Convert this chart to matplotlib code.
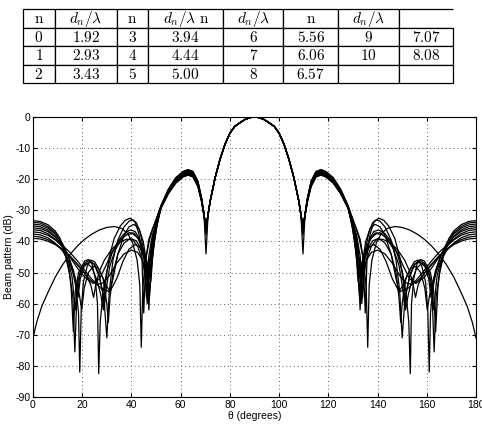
import matplotlib
matplotlib.use('Agg')
import matplotlib.pyplot as plt

plt.rcParams['mathtext.fontset'] = 'cm'
plt.rcParams['font.family'] = ['Liberation Sans', 'DejaVu Sans']
plt.rcParams['axes.unicode_minus'] = False

# table on top
head = ['n', 'd', 'n', 'dn', 'd', 'n', 'd', '']
row0 = ['0', '1.92', '3', '3.94', '6', '5.56', '9', '7.07']
row1 = ['1', '2.93', '4', '4.44', '7', '6.06', '10', '8.08']
row2 = ['2', '3.43', '5', '5.00', '8', '6.57', '', '']
col_w = [32.3, 61.7, 31.6, 75, 60, 55, 61, 54]

# beam pattern curves, theta (deg) from 0 to 71, mirrored about 90
c0 = [(0, -33.3), (3, -33.6), (6, -34.6), (9, -36.6), (11, -39), (13, -43), (14.5, -48), (15.5, -55),
      (16.4, -69), (17.2, -56), (18.5, -50), (20, -47.8), (22, -47), (24, -48.5), (26, -52.5), (27.5, -57),
      (28.6, -62), (29.5, -53), (31, -45), (33, -39), (35.5, -35), (37.5, -33.2), (39.5, -32.5), (41.5, -33.8),
      (43, -37.5), (44.2, -44), (45.0, -63), (45.8, -46), (47, -39.5), (48.5, -36), (50, -33.2),
      (52, -28.5), (55, -23.3), (58, -19.6), (61, -17.6), (63, -17.0), (65, -17.6), (67, -20.7),
      (68.5, -26.1), (69.5, -31.3), (70.3, -36), (71.1, -31.5)]
c1 = [(0, -33.8), (3, -34.1), (6, -35.2), (9, -37.2), (11, -39.8), (13, -44), (15, -51), (16.2, -58),
      (17.0, -75.5), (17.8, -58), (19, -51), (21, -47), (23, -46), (25, -47.5), (27, -51.5), (28.8, -58),
      (30.0, -71), (31, -56), (32.5, -46), (34.5, -39.5), (37, -35.3), (39, -33.5), (40.5, -33), (42, -34),
      (43.5, -37), (45, -43), (46.1, -58), (47, -45), (48.5, -38), (50, -34),
      (52, -28.6), (55, -23.6), (58, -19.9), (61, -17.9), (63, -17.3), (65, -17.9), (67, -21.0),
      (68.5, -26.3), (69.5, -31.4), (70.3, -37), (71.1, -31.5)]
c2 = [(0, -34.4), (3, -34.7), (6, -35.7), (9, -37.6), (12, -40.7), (14, -44), (16, -49), (17.5, -55),
      (18.5, -63), (19.0, -82), (19.6, -62), (20.5, -53), (22, -48), (23.5, -46), (25, -46.5), (26.5, -48.5),
      (28, -51), (30, -54.5), (31.2, -56), (32.5, -52), (34.5, -44), (37, -38), (39, -35.3), (41, -34.5),
      (43, -35.8), (44.8, -40), (46.2, -47), (47.1, -62), (47.8, -48), (49, -38.5), (50.5, -33),
      (52, -28.9), (55, -24.0), (58, -20.4), (61, -18.4), (63, -17.8), (65, -18.4), (67, -21.5),
      (68.5, -26.6), (69.5, -31.6), (70.3, -35), (71.1, -31.5)]
c3 = [(0, -35.0), (3, -35.3), (6, -36.3), (9, -38.3), (12, -41.8), (14, -45.5), (15.8, -51), (17.2, -62),
      (18, -54), (19.5, -48.5), (21, -46.3), (22.5, -45.8), (24, -47.3), (25.3, -52), (26.2, -60),
      (26.7, -82.5), (27.3, -66), (28.5, -56), (30, -49.5), (32, -44), (34.5, -40), (37, -37.5),
      (39.5, -36.3), (41.5, -36.8), (43.5, -39.5), (45, -44), (46, -50), (46.5, -55), (47.2, -47),
      (48.5, -39), (50, -34.5),
      (52, -29.1), (55, -24.3), (58, -20.8), (61, -18.8), (63, -18.2), (65, -18.8), (67, -21.9),
      (68.5, -26.9), (69.5, -31.7), (70.3, -44), (71.1, -32)]
c4 = [(0, -35.6), (3, -35.9), (6, -36.8), (9, -38.6), (12, -41.3), (14.5, -44.8), (16.5, -49.5),
      (17.6, -53.5), (18.3, -58), (19.2, -52), (20.8, -48), (23, -46.5), (25, -47.3), (26.8, -50.5),
      (28.2, -56), (29, -61), (29.8, -55), (31.2, -48), (33.5, -42.5), (36.5, -38.8), (39, -37.2),
      (41, -37.3), (43, -39.3), (44.8, -43.5), (46, -48), (46.8, -52), (47.5, -46), (48.8, -39), (50, -34.8),
      (52, -29.3), (55, -24.5), (58, -21.1), (61, -19.1), (63, -18.5), (65, -19.1), (67, -22.2),
      (68.5, -27.1), (69.5, -31.9), (70.3, -36), (71.1, -31.5)]
c5 = [(0, -36.2), (3, -36.5), (6, -37.5), (9, -39.3), (12, -41.8), (15, -45), (18, -48.5), (21, -51.5),
      (24.4, -53.5), (27, -52), (29.5, -48), (32, -43.5), (35, -39.8), (38, -37.8), (40.5, -37.5),
      (42.5, -38.8), (44.5, -42), (46.3, -46.5), (47.6, -51.5), (48.3, -47), (49.2, -40), (50.2, -35),
      (52, -28.8), (55, -23.7), (58, -20.1), (61, -18.1), (63, -17.5), (65, -18.1), (67, -21.2),
      (68.5, -26.4), (69.5, -31.5), (70.3, -35), (71.1, -31.5)]
c6 = [(0, -36.9), (3, -37.2), (6, -38), (9, -39.5), (12, -41.3), (15, -43.5), (18, -46.2), (21, -49.3),
      (24, -52.2), (27.5, -55), (31.2, -56.2), (34, -52), (36.5, -46.5), (39, -42.5), (41.5, -41),
      (43.5, -42), (45.5, -45.5), (47, -50), (47.9, -53), (48.7, -44), (50.2, -35.5),
      (52, -29.0), (55, -24.1), (58, -20.6), (61, -18.6), (63, -18.0), (65, -18.6), (67, -21.7),
      (68.5, -26.8), (69.5, -31.7), (70.3, -38), (71.1, -31.5)]
c7 = [(0, -37.6), (3, -37.9), (6, -38.8), (9, -40.5), (12, -43), (14.5, -46.5), (17, -51.5), (18.8, -57),
      (19.8, -62), (20.8, -55), (22.5, -50), (24.5, -48), (26.5, -48.6), (28.5, -52), (30, -60), (30.6, -66),
      (31.3, -58), (32.5, -50), (34.5, -44), (37, -40.5), (39.5, -39), (42, -39.8), (44, -42.5), (46, -48),
      (47.4, -56), (48.2, -46), (49.5, -38), (50.5, -34),
      (52, -29.4), (55, -24.7), (58, -21.3), (61, -19.3), (63, -18.7), (65, -19.3), (67, -22.4),
      (68.5, -27.3), (69.5, -31.9), (70.3, -36), (71.1, -31.5)]
c8 = [(0, -38.3), (3, -38.6), (6, -39.4), (9, -40.7), (12, -42.5), (15, -44.8), (18, -47.5), (21, -50.3),
      (23.5, -52.5), (26, -53.8), (28.5, -53.3), (31, -51), (34, -47), (37, -44), (40, -42.8), (42.5, -43.5),
      (44.5, -46), (46, -50), (47.3, -58), (48, -49), (49.3, -40), (50.5, -34.5),
      (52, -28.9), (55, -23.9), (58, -20.3), (61, -18.3), (63, -17.7), (65, -18.3), (67, -21.4),
      (68.5, -26.6), (69.5, -31.5), (70.3, -37), (71.1, -31.5)]
c9 = [(0, -39), (3, -39.2), (6, -39.9), (9, -41), (12, -42.6), (15, -44.6), (17.5, -46.8), (20, -49),
      (22, -51.5), (23.5, -54), (24.6, -58), (25.5, -54), (27, -49.5), (29, -46), (32, -42.5), (35, -40.3),
      (38, -39.3), (40.5, -39.5), (42.5, -41.5), (44.5, -46), (45.7, -52), (46.4, -60), (47.1, -50),
      (48.5, -40), (50, -34.5),
      (52, -29.2), (55, -24.4), (58, -20.9), (61, -18.9), (63, -18.3), (65, -18.9), (67, -22.0),
      (68.5, -27.0), (69.5, -31.8), (70.3, -35), (71.1, -31.5)]
c10 = [(0, -71), (1.5, -66), (3.5, -61), (6, -56.5), (9, -51.5), (12, -47.5), (15, -44.2), (18, -41.5),
       (21, -39.3), (24, -37.6), (27, -36.3), (30, -35.5), (33, -35.2), (36, -35.8), (38.5, -37.5),
       (40.5, -40.5), (42.3, -46), (43.4, -54), (44.0, -74), (44.6, -55), (45.8, -45.5), (47.5, -39),
       (49.5, -34),
       (52, -28.5), (55, -23.2), (58, -19.5), (61, -17.5), (63, -16.9), (65, -17.5), (67, -20.6),
       (68.5, -26.0), (69.5, -31.2), (70.3, -36), (71.1, -31.5)]
# common main lobe
main_lobe = [(72, -27), (74, -19.5), (76, -13.6), (78, -8.8), (80, -5.2), (82, -3.0), (84, -1.9),
             (86, -0.85), (88, -0.2), (90, 0)]

curves = [c0, c1, c2, c3, c4, c5, c6, c7, c8, c9, c10]

fig = plt.figure(figsize=(4.82, 4.26), dpi=100)

# ---- table ----
lab = {'n': r'$\mathrm{n}$', 'd': r'$d_n/\lambda$', 'dn': r'$d_n/\lambda\ \mathrm{n}$', '': ''}
cells = [[lab[h] for h in head]]
for r in [row0, row1, row2]:
    cells.append([('$' + v + '$') if v else '' for v in r])

tax = fig.add_axes([22.7 / 482, 1 - 83.3 / 426, 430.6 / 482, 74 / 426])
tax.axis('off')
w = [c / sum(col_w) for c in col_w]
tab = tax.table(cellText=cells, colWidths=w, cellLoc='center', bbox=[0, 0, 1, 1])
tab.auto_set_font_size(False)
tab.set_fontsize(11)
for (i, j), cell in tab.get_celld().items():
    cell.set_linewidth(0.9)
    cell.set_edgecolor('k')
tab[0, 7].visible_edges = 'TBL'

# ---- beam pattern ----
ax = fig.add_axes([33 / 482, 29 / 426, 443 / 482, 280 / 426])
for c in curves:
    pts = c + main_lobe
    th = [p[0] for p in pts]
    db = [p[1] for p in pts]
    th_full = th + [180 - t for t in reversed(th[:-1])]
    db_full = db + list(reversed(db[:-1]))
    ax.plot(th_full, db_full, c='k', lw=0.9)

ax.set_xlim(0, 180)
ax.set_ylim(-90, 0)
ax.set_xticks(range(0, 181, 20))
ax.set_yticks(range(-90, 1, 10))
ax.grid(which='major', linestyle=(0, (1, 3)), color='0.4', lw=0.7)
ax.tick_params(direction='in', top=True, right=True, length=3, labelsize=7.5, pad=2)
for s in ax.spines.values():
    s.set_linewidth(0.8)
ax.set_xlabel(r'θ (degrees)', fontsize=7.5, labelpad=1)
ax.set_ylabel('Beam pattern (dB)', fontsize=7.5, labelpad=1)

plt.savefig('out.png', dpi=100)
